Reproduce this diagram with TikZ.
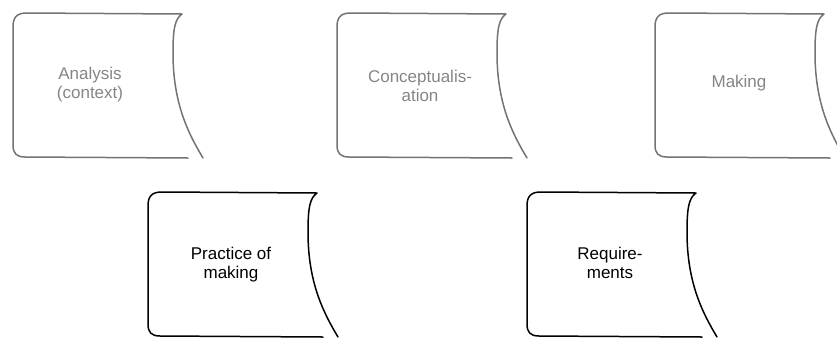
\documentclass[tikz,border=0pt]{standalone}
\usepackage{fontspec}
\setmainfont{Liberation Sans}
\definecolor{faded}{HTML}{737373}
\definecolor{fadedtext}{HTML}{858585}
\tikzset{
  sheet/.style={line width=1.5pt, line join=round, line cap=round},
  label/.style={align=center, font=\fontsize{17}{19}\selectfont},
}
% one curled sheet, top left corner at the current origin
\newcommand{\sheetpath}{
  (0,132) -- (0,14) .. controls (0,4) and (4,0) .. (14,0) -- (169,1)
  .. controls (162,6) and (160,15) .. (160,40)
  .. controls (160,90) and (175,120) .. (190,145)
  (175,145) -- (12,144) .. controls (3,144) and (0,140) .. (0,132)
}
\begin{document}
\begin{tikzpicture}[x=1pt,y=-1pt]
\useasboundingbox (0,0) rectangle (837,338);
% top row, faded
\begin{scope}[faded]
\draw[sheet, shift={(13,13)}] \sheetpath;
\draw[sheet, shift={(337,13)}] \sheetpath;
\draw[sheet, shift={(655,13)}] \sheetpath;
\end{scope}
\node[label, text=fadedtext] (analysis) at (90,85) {Analysis\\(context)};
\node[label, text=fadedtext] (concept) at (420,86) {Conceptualis-\\ation};
\node[label, text=fadedtext] (making) at (739,83) {Making};
% bottom row
\draw[sheet, shift={(148,192)}] \sheetpath;
\draw[sheet, shift={(527,192)}] \sheetpath;
\node[label] (practice) at (231,265) {Practice of\\making};
\node[label] (require) at (610,263) {Require-\\ments};
\end{tikzpicture}
\end{document}
